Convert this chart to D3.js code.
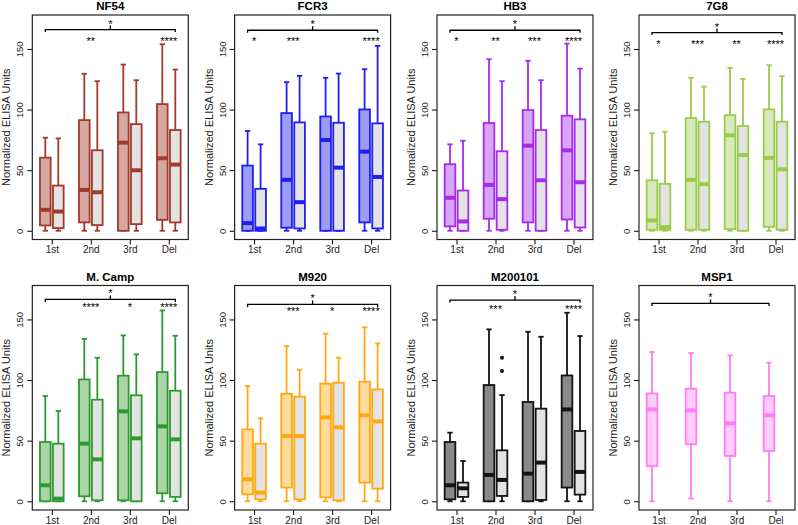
<!DOCTYPE html>
<html>
<head>
<meta charset="utf-8">
<script src="https://cdnjs.cloudflare.com/ajax/libs/d3/7.8.5/d3.min.js"></script>
<style>
  html, body { margin: 0; padding: 0; background: #fff; }
  svg text { font-family: "Liberation Sans", Arial, Helvetica, sans-serif; }
</style>
</head>
<body>
<svg id="chart" width="798" height="525"></svg>
<script>
// ---------------- DATA ----------------
const categories = ["1st", "2nd", "3rd", "Del"];
const panelTitles = ["NF54", "FCR3", "HB3", "7G8", "M. Camp", "M920", "M200101", "MSP1"];
const yTicks = [0, 50, 100, 150];

// five-number summaries per group: [lowWhisker, Q1, median, Q3, highWhisker]
// "strain" = coloured box, "grey" = paired grey box
const nf54Strain = [[0, 4.4, 17.3, 60.3, 76.8], [0, 6.9, 33.7, 91.3, 129.5], [0, 0, 72.7, 97.6, 137.1], [0, 9.0, 59.8, 104.5, 153.9]];
const nf54Grey   = [[0, 2.2, 15.9, 37.3, 76.2], [0, 4.7, 31.8, 66.4, 123.4], [0, 5.5, 49.9, 88.0, 124.2], [0, 6.9, 54.6, 83.1, 133.0]];
const fcr3Strain = [[0, 0, 6.3, 53.8, 82.3], [0, 2.5, 42.0, 97.1, 122.6], [0, 0, 74.9, 94.3, 126.2], [0, 6.9, 65.3, 100.1, 133.3]];
const fcr3Grey   = [[0, 0, 1.9, 34.6, 71.3], [0, 1.9, 23.6, 89.4, 127.8], [0, 0, 52.1, 89.1, 129.7], [0, 1.9, 44.4, 88.6, 152.5]];
const hb3Strain  = [[0, 3.6, 27.2, 54.9, 71.3], [0, 9.9, 37.8, 88.9, 141.5], [0, 6.9, 70.2, 99.6, 140.2], [0, 9.3, 66.4, 94.9, 154.4]];
const hb3Grey    = [[0, 0, 7.7, 33.2, 74.3], [0, 0.8, 26.1, 65.6, 123.4], [0, 0, 41.7, 83.1, 124.2], [0, 2.7, 40.0, 91.9, 133.8]];
const g78Strain  = [[0, 0.8, 8.5, 41.7, 80.4], [0, 0.8, 42.0, 93.0, 126.2], [0, 1.4, 78.7, 95.4, 134.4], [0, 3.3, 60.1, 100.1, 136.6]];
const g78Grey    = [[0, 0.8, 3.0, 38.7, 81.7], [0, 0.8, 38.4, 90.0, 118.8], [0, 0, 62.5, 86.4, 125.3], [0, 0.8, 50.7, 90.0, 127.5]];
const campStrain = [[0, 0, 13.2, 48.9, 86.8], [0, 4.1, 47.5, 100.5, 134.0], [0, 0.8, 74.2, 103.6, 136.8], [0, 6.6, 61.8, 106.6, 157.4]];
const campGrey   = [[0, 0, 2.2, 47.5, 74.5], [0, 0.8, 34.6, 83.8, 118.4], [0, 0, 51.9, 87.4, 121.2], [0, 3.6, 51.1, 91.2, 136.5]];
const m920Strain = [[0, 5.8, 18.1, 59.3, 95.0], [0, 11.3, 53.8, 88.7, 128.0], [0, 3.3, 69.2, 97.0, 138.2], [0, 15.4, 70.9, 98.6, 143.4]];
const m920Grey   = [[0, 1.6, 7.1, 47.5, 68.4], [0, 1.6, 53.8, 86.3, 108.5], [0, 0.8, 61.0, 97.8, 118.4], [0, 10.4, 65.9, 92.3, 130.2]];
const m2Strain   = [[0, 1.6, 13.2, 48.9, 56.6], [0, 0, 21.7, 95.9, 141.8], [0, 0, 22.8, 81.9, 139.8], [0, 11.3, 75.8, 103.8, 155.5]];
const m2Grey     = [[0, 3.6, 10.7, 15.4, 33.2], [0, 4.4, 17.6, 42.0, 87.6], [0, 1.1, 31.9, 76.4, 135.7], [0, 5.5, 24.2, 58.0, 136.3]];
const m2GreyOutliers = [[], [107.4, 118.4], [], []];
const msp1Strain = [[0, 29.1, 75.8, 89.0, 123.1], [2.2, 47.0, 75.0, 92.9, 122.3], [0, 37.4, 64.3, 89.6, 120.3], [0, 41.5, 70.9, 86.8, 114.3]];

// significance labels per group, and the overall bracket label
const starsNF54 = ["", "**", "", "****"];
const starsFCR3 = ["*", "***", "", "****"];
const starsHB3  = ["*", "**", "***", "****"];
const stars7G8  = ["*", "***", "**", "****"];
const starsCamp = ["", "****", "*", "****"];
const starsM920 = ["", "***", "*", "****"];
const starsM2   = ["", "***", "", "****"];
const starsMSP1 = ["", "", "", ""];
const bracketLabel = "*";
// vertical levels (data units) of bracket and group stars
const bracketLevels = [166.0, 165.4, 165.4, 163.5, 166.5, 162.4, 166.0, 163.2];
const starLevels    = [158.6, 158.6, 158.6, 155.8, 162.2, 158.8, 161.0, 0];

// colours
const strokeColors = ["#A23A2B", "#1F1FF2", "#A52BEF", "#9CCB4A", "#2E9A2E", "#FFA812", "#141414", "#FF7CF6"];
const fillColors   = ["#D5A8A1", "#9C9CF3", "#D8A4F5", "#D8EABC", "#A9D5A9", "#FFDB9C", "#8A8A8A", "#FFCDFB"];
const greyFill = "#E3E3E3";

// ---------------- BUILD ----------------
const strainSeries = [nf54Strain, fcr3Strain, hb3Strain, g78Strain, campStrain, m920Strain, m2Strain, msp1Strain];
const greySeries   = [nf54Grey, fcr3Grey, hb3Grey, g78Grey, campGrey, m920Grey, m2Grey, null];
const greyOutliers = [null, null, null, null, null, null, m2GreyOutliers, null];
const groupStars   = [starsNF54, starsFCR3, starsHB3, stars7G8, starsCamp, starsM920, starsM2, starsMSP1];

const svg = d3.select("#chart");
const colLefts = [32.3, 234.6, 437, 639];
const rowTops = [15, 285.5];
const pw = 156, ph = 224.5;

const x = d3.scaleLinear().domain([0, 12]).range([0, pw]);
const y = d3.scaleLinear().domain([-7.2, 178]).range([ph, 0]);
const boxW = x(0.82) - x(0);
const capW = x(0.41) - x(0);
const groupCenter = i => 1.5 + 3 * i;

panelTitles.forEach((title, p) => {
  const col = p % 4, row = Math.floor(p / 4);
  const g = svg.append("g").attr("transform", `translate(${colLefts[col]},${rowTops[row]})`);
  const sc = strokeColors[p];

  // title
  g.append("text").attr("x", pw / 2).attr("y", -5).attr("text-anchor", "middle")
    .attr("font-weight", "bold").attr("font-size", 11.5).text(title);

  // y axis
  const ya = g.append("g").call(d3.axisLeft(y).tickValues(yTicks).tickSize(5).tickFormat(d3.format("d")));
  ya.select(".domain").remove();
  ya.selectAll("line").attr("stroke", "#000");
  ya.selectAll("text").attr("font-size", 9.5).attr("fill", "#222")
    .attr("transform", "rotate(-90)")
    .attr("x", 0).attr("y", -9).attr("dy", 0).attr("text-anchor", "middle");
  // y axis title
  g.append("text").attr("transform", `translate(-22,${ph / 2}) rotate(-90)`)
    .attr("text-anchor", "middle").attr("font-size", 11).attr("fill", "#222").text("Normalized ELISA Units");

  // x axis
  const xa = g.append("g").attr("transform", `translate(0,${ph})`)
    .call(d3.axisBottom(x).tickValues(categories.map((c, i) => groupCenter(i)))
      .tickSize(5).tickFormat((d, i) => categories[i]));
  xa.select(".domain").remove();
  xa.selectAll("line").attr("stroke", "#000");
  xa.selectAll("text").attr("font-size", 10).attr("fill", "#222").attr("dy", 0).attr("y", 13.5);

  // boxes
  const drawBox = (stats, pos, fill, outliers) => {
    const cx = x(pos);
    const [lo, q1, med, q3, hi] = stats;
    const bg = g.append("g").attr("stroke", sc).attr("stroke-width", 1.8).attr("fill", "none");
    bg.append("line").attr("x1", cx).attr("x2", cx).attr("y1", y(q3)).attr("y2", y(hi));
    bg.append("line").attr("x1", cx).attr("x2", cx).attr("y1", y(q1)).attr("y2", y(lo));
    bg.append("line").attr("x1", cx - capW / 2).attr("x2", cx + capW / 2).attr("y1", y(hi)).attr("y2", y(hi));
    bg.append("line").attr("x1", cx - capW / 2).attr("x2", cx + capW / 2).attr("y1", y(lo)).attr("y2", y(lo));
    bg.append("rect").attr("x", cx - boxW / 2).attr("width", boxW)
      .attr("y", y(q3)).attr("height", Math.max(0.01, y(q1) - y(q3))).attr("fill", fill);
    bg.append("line").attr("x1", cx - boxW / 2).attr("x2", cx + boxW / 2)
      .attr("y1", y(med)).attr("y2", y(med)).attr("stroke-width", 4);
    if (outliers) {
      outliers.forEach(v => g.append("circle").attr("cx", cx).attr("cy", y(v)).attr("r", 2).attr("fill", sc));
    }
  };
  const strain = strainSeries[p], grey = greySeries[p];
  categories.forEach((c, i) => {
    const base = 1 + 3 * i;
    drawBox(strain[i], base, fillColors[p], null);
    if (grey) drawBox(grey[i], base + 1, greyFill, greyOutliers[p] ? greyOutliers[p][i] : null);
  });

  // plot frame
  g.append("rect").attr("width", pw).attr("height", ph).attr("fill", "none").attr("stroke", "#222").attr("stroke-width", 1.2);

  // bracket
  const by = y(bracketLevels[p]);
  const bx1 = x(1), bx2 = x(grey ? 11 : 10), bxm = (bx1 + bx2) / 2;
  g.append("path").attr("d", `M${bx1},${by + 2.5}V${by}H${bx2}V${by + 2.5}M${bxm},${by}V${by - 4}`)
    .attr("stroke", "#000").attr("stroke-width", 1.3).attr("fill", "none");
  g.append("text").attr("x", bxm).attr("y", by - 2).attr("text-anchor", "middle").attr("font-size", 11).attr("fill", "#000").text(bracketLabel);

  // group stars
  groupStars[p].forEach((s, i) => {
    if (!s) return;
    g.append("text").attr("x", x(groupCenter(i))).attr("y", y(starLevels[p]) + 6.5)
      .attr("text-anchor", "middle").attr("font-size", 11).attr("fill", "#000").text(s);
  });
});
</script>
</body>
</html>
